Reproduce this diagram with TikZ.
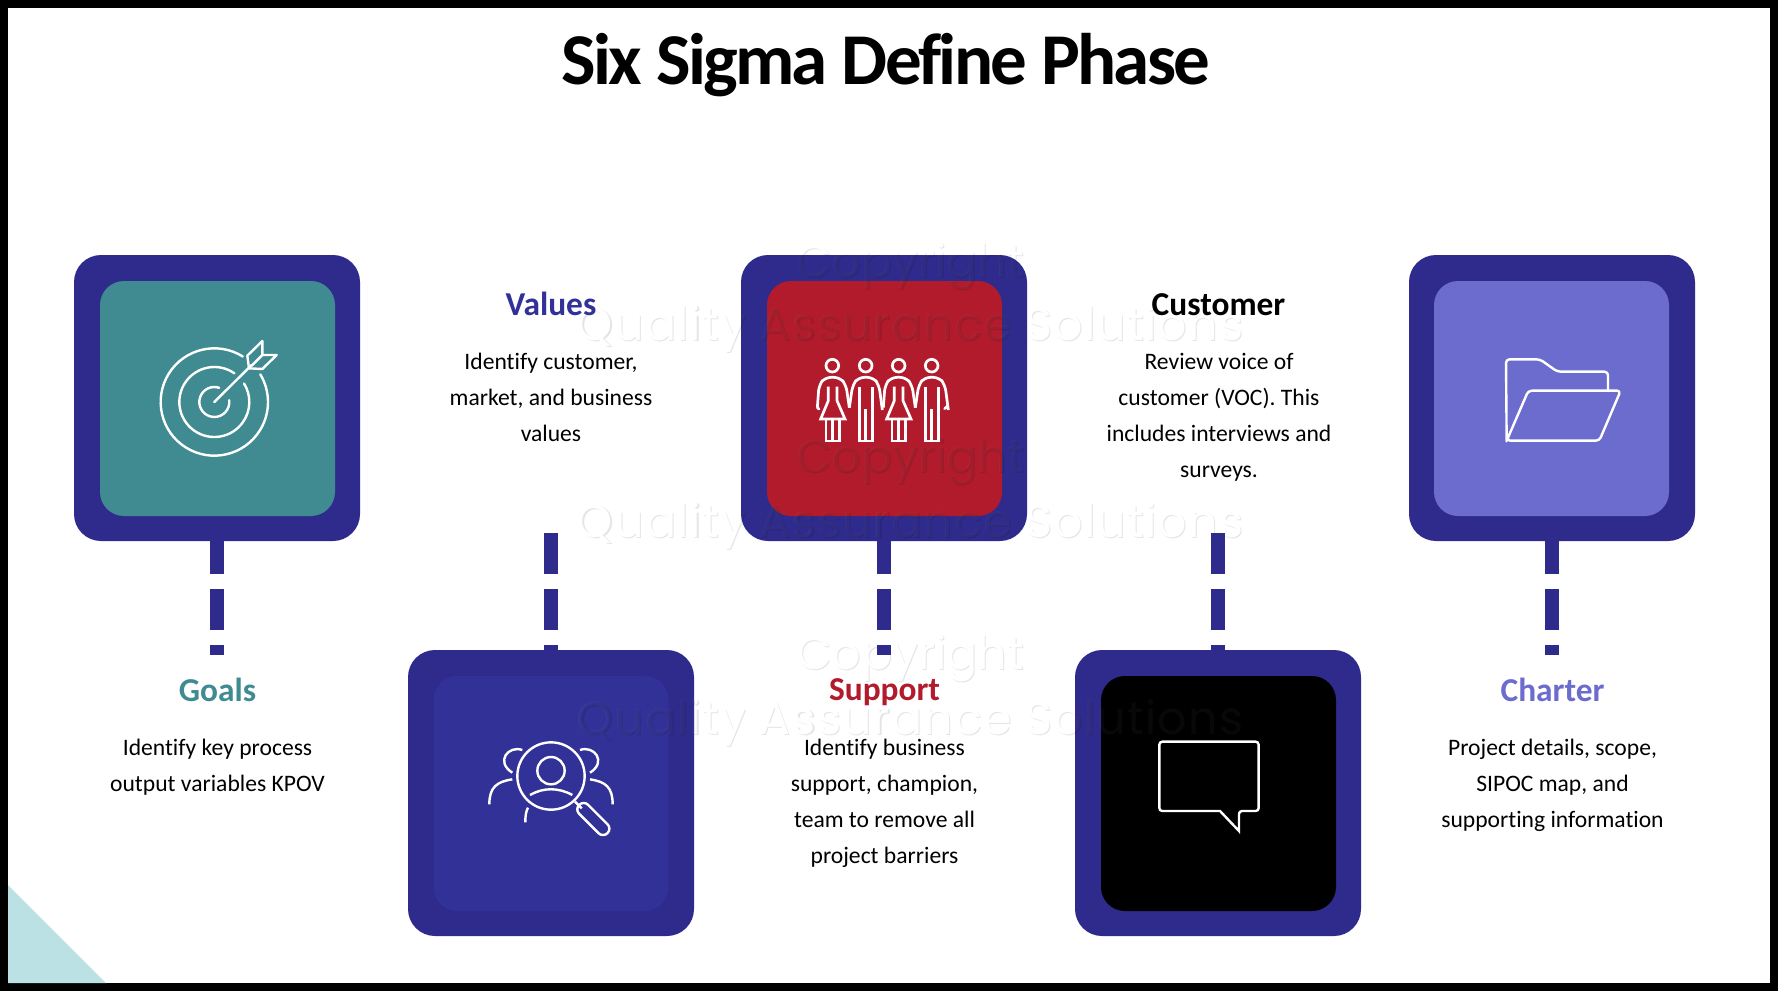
\documentclass[tikz,border=0pt]{standalone}
\usepackage{fontspec}
\setmainfont[Ligatures=NoCommon]{Carlito}
\newfontfamily\titlefont[Ligatures=NoCommon,LetterSpace=-3.7]{Carlito}
\newfontfamily\wmfont{Poppins}
\newfontfamily\wmwide[LetterSpace=2.6]{Poppins}
\definecolor{navy}{HTML}{2E2B8C}
\definecolor{teal1}{HTML}{3F8B91}
\definecolor{blue2}{HTML}{323197}
\definecolor{red1}{HTML}{B11B2C}
\definecolor{violet1}{HTML}{6C6CCF}
\definecolor{pale}{HTML}{BBE1E5}
\tikzset{
  outerbox/.style={fill=navy,draw=none,rounded corners=27pt,minimum size=286pt,inner sep=0pt,outer sep=0pt},
  innerbox/.style={draw=none,rounded corners=24pt,minimum size=235pt,inner sep=0pt,outer sep=0pt},
  conn/.style={navy,line width=14pt,dash pattern=on 41pt off 15pt},
  head/.style={font=\fontsize{33.4}{36}\selectfont\bfseries,anchor=base,inner sep=0pt},
  body/.style={font=\fontsize{23.6}{36}\selectfont,align=center,anchor=north,inner sep=0pt,text=black},
  icon/.style={white,line width=2.4pt,line cap=round,line join=round},
  wm/.style={font=\fontsize{46}{50}\selectfont,inner sep=0pt,anchor=base},
  zoomframe/.style={x=.33333pt,y=-.33333pt},
}
\begin{document}
\begin{tikzpicture}[x=1pt,y=-1pt]
\useasboundingbox (0,0) rectangle (1778,991);
\fill[black] (0,0) rectangle (1778,991);
\fill[white] (8,8) rectangle (1770,983);
\fill[pale] (8,885) -- (106,983) -- (8,983) -- cycle;

% watermark on the white ground
\foreach \n/\yy/\tt in {a/277/\wmfont Copyright,b/472/\wmfont Copyright,c/669/\wmfont Copyright,d/340/\wmwide Quality Assurance Solutions,e/537/\wmwide Quality Assurance Solutions,f/734/\wmwide Quality Assurance Solutions}{
  \node[wm,text=black,text opacity=.10] (wms\n) at (911.2,\yy+1.3) {\tt};
  \node[wm,text=white] (wmw\n) at (910,\yy) {\tt};
}

\node[font=\titlefont\fontsize{73}{76}\selectfont\bfseries,inner sep=0pt,anchor=base] (title) at (886,84) {Six Sigma Define Phase};

% labels
\node[head,text=teal1] (goals) at (217.5,701.5) {Goals};
\node[body] (goalsT) at (217.5,739.2) {Identify key process\\output variables KPOV};
\node[head,text=blue2] (values) at (551,315.5) {Values};
\node[body] (valuesT) at (551,353.2) {Identify customer,\\market, and business\\values};
\node[head,text=red1] (support) at (884.5,700.5) {Support};
\node[body] (supportT) at (884.5,739.2) {Identify business\\support, champion,\\team to remove all\\project barriers};
\node[head,text=black] (customer) at (1218.5,315.5) {Customer};
\node[body] (customerT) at (1219,353.2) {Review voice of\\customer (VOC). This\\includes interviews and\\surveys.};
\node[head,text=violet1] (charter) at (1552.5,701.5) {Charter};
\node[body] (charterT) at (1552.5,739.2) {Project details, scope,\\SIPOC map, and\\supporting information};

% connector ends
\coordinate (c1a) at (217,533);  \coordinate (c1b) at (217,655);
\coordinate (c2a) at (551,533);  \coordinate (c2b) at (551,655);
\coordinate (c3a) at (884,533);  \coordinate (c3b) at (884,655);
\coordinate (c4a) at (1218,533); \coordinate (c4b) at (1218,655);
\coordinate (c5a) at (1552,533); \coordinate (c5b) at (1552,655);
\foreach \i in {1,...,5} \draw[conn] (c\i a) -- (c\i b);

% boxes
\node[outerbox] (o1) at (217,398) {};
\node[innerbox,fill=teal1] (i1) at (217.5,398.5) {};
\node[outerbox] (o2) at (551,793) {};
\node[innerbox,fill=blue2] (i2) at (551,793.5) {};
\node[outerbox] (o3) at (884,398) {};
\node[innerbox,fill=red1] (i3) at (884.5,398.5) {};
\node[outerbox] (o4) at (1218,793) {};
\node[innerbox,fill=black] (i4) at (1218.5,793.5) {};
\node[outerbox] (o5) at (1552,398) {};
\node[innerbox,fill=violet1] (i5) at (1551.5,398.5) {};

% watermark on the boxes
\begin{scope}
\clip[rounded corners=27pt] (741,255) rectangle (1027,541) (408,650) rectangle (694,936) (1075,650) rectangle (1361,936);
\foreach \n/\yy/\tt in {a/277/\wmfont Copyright,b/472/\wmfont Copyright,c/669/\wmfont Copyright,d/340/\wmwide Quality Assurance Solutions,e/537/\wmwide Quality Assurance Solutions,f/734/\wmwide Quality Assurance Solutions}{
  \node[wm,text=black,text opacity=.10] (bwms\n) at (911.2,\yy+1.3) {\tt};
  \node[wm,text=white,text opacity=.03] (bwmw\n) at (910,\yy) {\tt};
}
\end{scope}

% target icon
\begin{scope}[shift={(60,240)},zoomframe,icon]
\draw (463,486) ++(-58:161) arc[start angle=-58,delta angle=-333,radius=161];
\draw (463,486) ++(-55:105) arc[start angle=-55,delta angle=-337,radius=105];
\draw (463,486) ++(-71:45) arc[start angle=-71,delta angle=-296,radius=45];
\draw (463,486) -- (575,375);
\draw (562,347) -- (607,303) -- (607,345) -- (650,345) -- (607,387) -- (567,385) -- cycle;
\draw (607,345) -- (575,377);
\end{scope}

% people icon
\begin{scope}[shift={(720,230)},zoomframe,icon,line width=2.7pt,line join=miter,line cap=butt]
\foreach \hx in {337,437,536,635} \draw (\hx,407) circle[radius=19];
\foreach \dx in {0,198}{
  \begin{scope}[xshift=\dx*.33333pt]
  \draw[rounded corners=6pt] (292,533) -- (297,465) -- (315,442) -- (360,442) -- (378,465) -- (388,533);
  \draw (325,470) -- (325,512) -- (302,567) -- (375,567) -- (351,512) -- (351,470);
  \draw (318,567) -- (318,633) -- (358,633) -- (358,567);
  \draw (338,567) -- (338,633);
  \draw[rounded corners=6pt] (388,533) -- (398,465) -- (415,442) -- (460,442) -- (477,465) -- (487,540);
  \draw (418,470) -- (418,633) -- (458,633) -- (458,470);
  \draw (437,537) -- (437,633);
  \end{scope}
}
\draw[line cap=round] (292,533) -- (297,537) (683,528) -- (674,536);
\end{scope}

% folder icon
\begin{scope}[shift={(1400,300)},zoomframe,icon]
\draw[rounded corners=3.5pt] (320,424) -- (318,178) -- (420,178) -- (472,215) -- (624,215) -- (624,270);
\draw[rounded corners=3.5pt] (598,422) -- (320,422) -- (385,272) -- (662,272) -- cycle;
\end{scope}

% searching people icon
\begin{scope}[shift={(440,700)},zoomframe,icon,line cap=butt]
\draw (333,228) circle[radius=101];
\draw (333,212) circle[radius=41];
\draw (270,285) .. controls (310,262) and (356,262) .. (397,285);
\draw (247,150) .. controls (205,135) and (165,185) .. (217,218);
\draw (420,150) .. controls (462,135) and (502,185) .. (450,218);
\draw (217,238) .. controls (170,245) and (148,262) .. (148,313);
\draw (450,238) .. controls (497,245) and (518,262) .. (518,313);
\draw (264,323) .. controls (258,335) and (256,345) .. (256,367);
\draw (405,305) -- (425,325);
\draw[rotate around={-45:(460,357)},rounded corners=6.2pt] (400,338) rectangle (520,376);
\end{scope}

% speech bubble icon
\begin{scope}[shift={(1120,700)},zoomframe,icon,line join=miter,line cap=butt]
\draw[rounded corners=3pt] (300,333) -- (118,333) -- (118,125) -- (416,125) -- (416,333) -- (357,333) [sharp corners] -- (357,393) -- cycle;
\end{scope}
\end{tikzpicture}
\end{document}
